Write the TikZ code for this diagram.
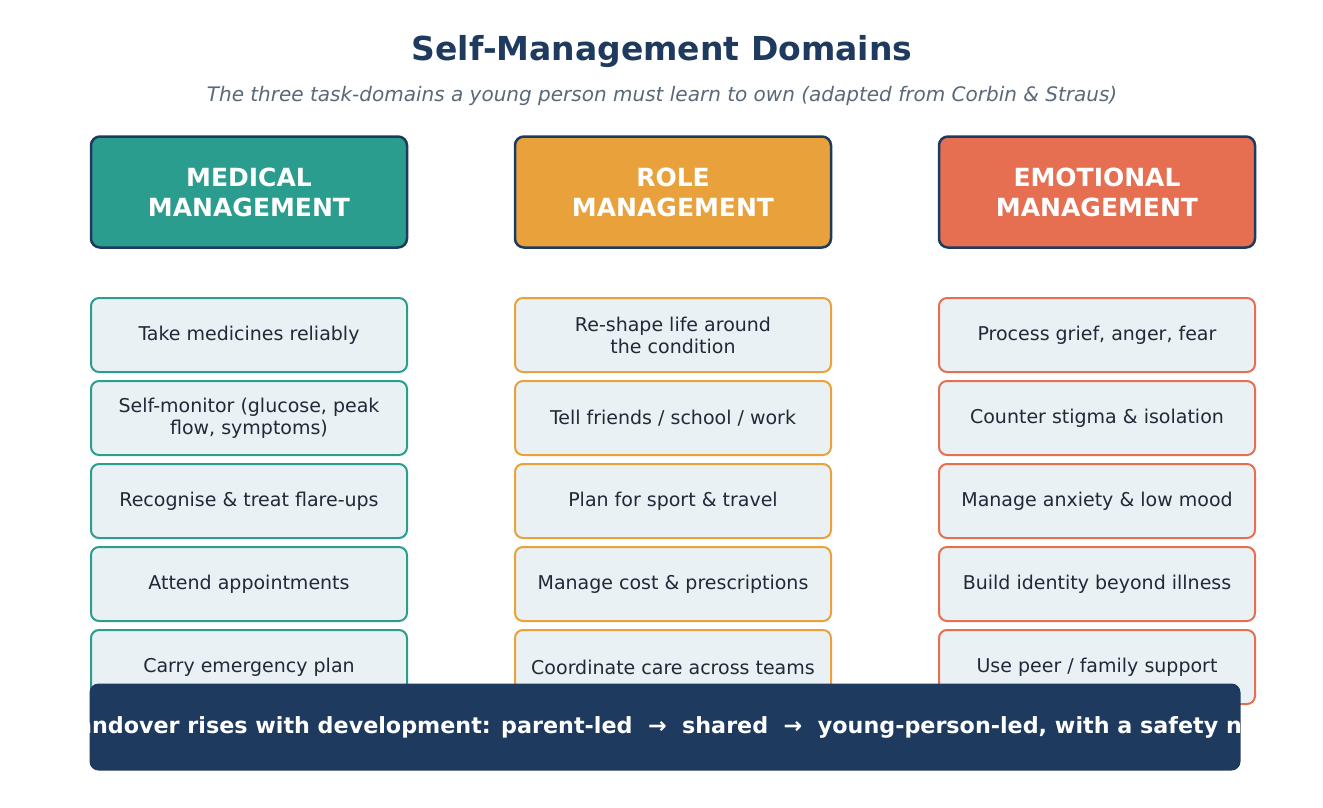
\documentclass[tikz,border=0pt]{standalone}
\usepackage{fontspec}
\setmainfont{DejaVu Sans}

\definecolor{navy}{HTML}{1F3A5F}
\definecolor{ink}{HTML}{1F2937}
\definecolor{subgray}{HTML}{5B6878}
\definecolor{teal}{HTML}{2A9D8F}
\definecolor{amber}{HTML}{E9A23B}
\definecolor{coral}{HTML}{E76F51}
\definecolor{itemfill}{HTML}{EAF1F4}

\tikzset{
  header/.style={draw=navy, line width=2.5pt, rounded corners=9pt,
    minimum width=316pt, minimum height=111pt, align=center, text=white,
    font=\bfseries\fontsize{25}{30}\selectfont},
  item/.style={fill=itemfill, line width=2pt, rounded corners=8pt,
    minimum width=316pt, minimum height=74pt, align=center, text=ink,
    font=\fontsize{19}{22}\selectfont},
}

\begin{document}
\begin{tikzpicture}[x=1pt, y=-1pt]

    % Frame
    \useasboundingbox[fill=white] (0,0) rectangle (1323,807);

    % Title and subtitle
    \node[font=\bfseries\fontsize{33}{38}\selectfont, text=navy] (title) at (662,52) {Self-Management Domains};
    \node[font=\itshape\fontsize{20}{24}\selectfont, text=subgray] (subtitle) at (662,96)
        {The three task-domains a young person must learn to own (adapted from Corbin \& Straus)};

    % Domain headers
    \node[header, fill=teal]  (medical)   at (249,192) {MEDICAL\\MANAGEMENT};
    \node[header, fill=amber] (role)      at (673,192) {ROLE\\MANAGEMENT};
    \node[header, fill=coral] (emotional) at (1097,192) {EMOTIONAL\\MANAGEMENT};

    % Medical tasks
    \node[item, draw=teal] (med1) at (249,335) {Take medicines reliably};
    \node[item, draw=teal] (med2) at (249,418) {Self-monitor (glucose, peak\\flow, symptoms)};
    \node[item, draw=teal] (med3) at (249,501) {Recognise \& treat flare-ups};
    \node[item, draw=teal] (med4) at (249,584) {Attend appointments};
    \node[item, draw=teal] (med5) at (249,667) {Carry emergency plan};

    % Role tasks
    \node[item, draw=amber] (role1) at (673,335) {Re-shape life around\\the condition};
    \node[item, draw=amber] (role2) at (673,418) {Tell friends / school / work};
    \node[item, draw=amber] (role3) at (673,501) {Plan for sport \& travel};
    \node[item, draw=amber] (role4) at (673,584) {Manage cost \& prescriptions};
    \node[item, draw=amber] (role5) at (673,667) {Coordinate care across teams};

    % Emotional tasks
    \node[item, draw=coral] (emo1) at (1097,335) {Process grief, anger, fear};
    \node[item, draw=coral] (emo2) at (1097,418) {Counter stigma \& isolation};
    \node[item, draw=coral] (emo3) at (1097,501) {Manage anxiety \& low mood};
    \node[item, draw=coral] (emo4) at (1097,584) {Build identity beyond illness};
    \node[item, draw=coral] (emo5) at (1097,667) {Use peer / family support};

    % Handover banner (text runs past its edges)
    \node[fill=navy, rounded corners=9pt, minimum width=1151pt, minimum height=87pt] (banner) at (665,727) {};
    \begin{scope}
        \clip (banner.south west) rectangle (banner.north east);
        \node[text=white, font=\bfseries\fontsize{22.25}{26}\selectfont] (handover) at ([xshift=-2pt]banner.center)
            {Handover rises with development: parent-led \ → \ shared \ → \ young-person-led, with a safety net};
    \end{scope}

\end{tikzpicture}
\end{document}
